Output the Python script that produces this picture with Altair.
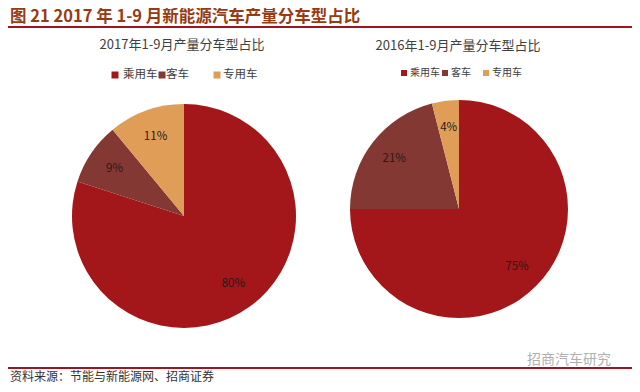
import altair as alt
import pandas as pd

# ---- data ----
categories = ["乘用车", "客车", "专用车"]
share_2017 = [80, 9, 11]
share_2016 = [75, 21, 4]
colors = ["#A3161A", "#833833", "#DF9D58"]
title_main = "图 21 2017 年 1-9 月新能源汽车产量分车型占比"
sub_2017 = "2017年1-9月产量分车型占比"
sub_2016 = "2016年1-9月产量分车型占比"
source_text = "资料来源：节能与新能源网、招商证券"
watermark = "招商汽车研究"

# ---- layout helpers (page coords -> chart coords) ----
OX, OY = 8, 8
FONT = "Noto Sans CJK SC"


def px(x):
    return x - OX


def py(y):
    return y - OY


color_scale = alt.Scale(domain=categories, range=colors)
one = pd.DataFrame({"d": [0]})


def pie(values, cx, cy, r, label_r):
    df = pd.DataFrame({
        "cat": categories,
        "val": values,
        "idx": list(range(len(categories))),
        "label": [f"{v}%" for v in values],
    })
    base = alt.Chart(df).encode(
        theta=alt.Theta("val:Q", stack=True),
        order=alt.Order("idx:Q"),
    )
    arc = base.mark_arc(radius=r).encode(
        color=alt.Color("cat:N", scale=color_scale, legend=None),
        x=alt.value(px(cx)),
        y=alt.value(py(cy)),
    )
    txt = base.mark_text(radius=label_r, font=FONT, fontSize=11.5, color="#2a1a18").encode(
        text="label:N",
        x=alt.value(px(cx)),
        y=alt.value(py(cy)),
    )
    return [arc, txt]


def text(s, x, y, size, color, weight="normal", align="left", baseline="middle"):
    return alt.Chart(one).mark_text(
        font=FONT, fontSize=size, color=color, fontWeight=weight,
        align=align, baseline=baseline,
    ).encode(x=alt.value(px(x)), y=alt.value(py(y)), text=alt.value(s))


def legend(square_x, text_x, y, sq, size):
    layers = []
    for c, sx, tx in zip(categories, square_x, text_x):
        layers.append(
            alt.Chart(pd.DataFrame({"cat": [c]})).mark_square(size=sq * sq, opacity=1).encode(
                x=alt.value(px(sx)), y=alt.value(py(y)),
                color=alt.Color("cat:N", scale=color_scale, legend=None),
            )
        )
        layers.append(text(c, tx, y, size, "#404040"))
    return layers


def hline(y, color, w):
    return alt.Chart(one).mark_rule(color=color, strokeWidth=w).encode(
        x=alt.value(px(0)), x2=alt.value(px(640)), y=alt.value(py(y))
    )


layers = []
layers.append(text(title_main, 10, 17, 16.5, "#9A3A12", weight="bold"))
layers.append(hline(27, "#A0141E", 2))
layers.append(text(sub_2017, 182, 45, 13, "#404040", align="center"))
layers.append(text(sub_2016, 458, 46, 13, "#404040", align="center"))
layers += legend([115, 162, 217], [123, 166, 223], 75, 7, 11.5)
layers += legend([404, 445, 486], [410, 451, 492], 73, 6, 10)
layers += pie(share_2017, 184, 216, 112, 84)
layers += pie(share_2016, 459, 209, 109, 82)
layers.append(hline(368, "#A0141E", 2))
layers.append(text(watermark, 527, 360, 14, "#b0b0b0"))
layers.append(text(source_text, 10, 377, 12, "#333333"))

chart = alt.layer(*layers).properties(
    width=624, height=376, padding=0,
    autosize=alt.AutoSizeParams(type="none"),
).configure_view(stroke=None)

chart.save("out.html", embed_options={"renderer": "svg", "actions": False})
